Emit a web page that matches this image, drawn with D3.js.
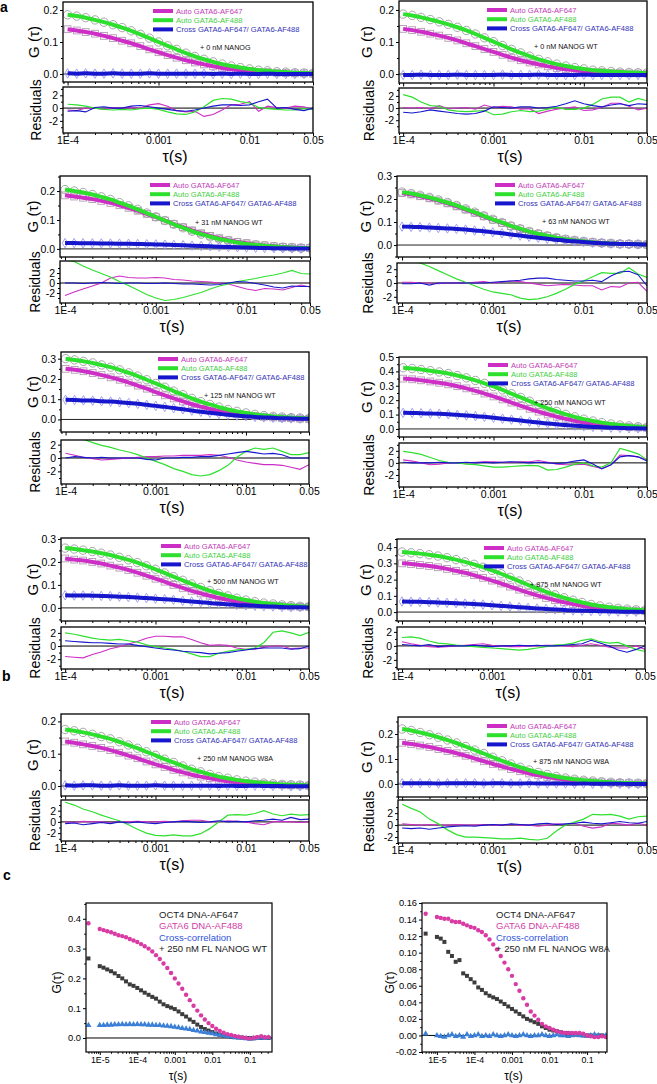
<!DOCTYPE html>
<html><head><meta charset="utf-8">
<script src="https://cdn.jsdelivr.net/npm/d3@7"></script>
<style>body{margin:0;background:#fff}svg{display:block}</style>
</head><body>
<svg id="fig" width="657" height="1084"></svg>
<script>
// ---------- DATA (panels a, b) ----------
const TAU = [1e-4,1.26e-4,1.58e-4,2e-4,2.51e-4,3.16e-4,3.98e-4,5.01e-4,6.31e-4,7.94e-4,1e-3,1.26e-3,1.58e-3,2e-3,2.51e-3,3.16e-3,3.98e-3,5.01e-3,6.31e-3,7.94e-3,1e-2,1.26e-2,1.58e-2,2e-2,2.51e-2,3.16e-2,3.98e-2,5e-2];
const xTickVals = [1e-4,1e-3,1e-2,0.05];
const xTickLabels = ["1E-4","0.001","0.01","0.05"];
const legendLabels = ["Auto GATA6-AF647","Auto GATA6-AF488","Cross GATA6-AF647/ GATA6-AF488"];
const panelNotes = ["+ 0 nM NANOG","+ 0 nM NANOG WT","+ 31 nM NANOG WT","+ 63 nM NANOG WT","+ 125 nM NANOG WT","+ 250 nM NANOG WT","+ 500 nM NANOG WT","+ 875 nM NANOG WT","+ 250 nM NANOG W8A","+ 875 nM NANOG W8A"];

// panel 1
const p1Mag=[0.140,0.136,0.131,0.126,0.119,0.112,0.104,0.096,0.087,0.077,0.068,0.059,0.051,0.043,0.036,0.030,0.024,0.019,0.015,0.012,0.009,0.007,0.006,0.004,0.003,0.002,0.002,0.001];
const p1Grn=[0.185,0.181,0.176,0.169,0.162,0.154,0.145,0.135,0.124,0.112,0.100,0.088,0.077,0.065,0.055,0.046,0.038,0.031,0.025,0.020,0.016,0.012,0.010,0.007,0.006,0.004,0.003,0.002];
const p1Blu=[0.002,0.001,0.002,0.001,0.001,0.002,0.001,0.001,0.001,0.002,0.001,0.001,0.001,0.001,0.001,0.001,0,0.001,0,0.001,0,0,0.001,0,0,0,0,0];
const p1rMag=[-0.3,-0.4,0,0,-0.2,0.1,0,0.1,0,0.5,0.7,0.3,-0.4,-0.6,-0.5,-1.3,-1.0,-0.3,0.5,0.6,1.0,-0.5,0.3,0.1,0,0.3,0.2,-0.2];
const p1rGrn=[0.6,0.5,0.3,0,-0.2,-0.3,-0.2,-0.3,-0.1,0,-0.2,-0.6,-0.9,-1.0,-0.6,0.2,1.2,1.5,1.4,1.0,0.8,0.1,-0.1,-0.2,-0.3,-0.3,-0.1,-0.2];
const p1rBlu=[-0.5,-0.4,-0.6,0.1,0.2,0,0,0.3,0.4,0.2,0,-0.2,-0.4,-0.5,-0.3,0,0.3,0.5,0.5,0.4,0.5,1.0,1.4,0,0.1,-0.2,-0.4,0];
// panel 2
const p2Mag=[0.141,0.137,0.132,0.126,0.120,0.113,0.105,0.096,0.087,0.078,0.069,0.060,0.051,0.043,0.036,0.030,0.024,0.019,0.015,0.012,0.009,0.007,0.006,0.004,0.003,0.002,0.002,0.001];
const p2Grn=[0.187,0.183,0.177,0.170,0.163,0.155,0.146,0.136,0.125,0.113,0.101,0.089,0.077,0.066,0.056,0.046,0.038,0.031,0.025,0.020,0.016,0.012,0.010,0.008,0.006,0.005,0.004,0.003];
const p2Blu=[-0.003,-0.003,-0.002,-0.003,-0.003,-0.003,-0.002,-0.003,-0.003,-0.003,-0.003,-0.002,-0.003,-0.003,-0.003,-0.002,-0.003,-0.003,-0.003,-0.003,-0.002,-0.003,-0.003,-0.003,-0.003,-0.003,-0.003,-0.003];
const p2rMag=[0.1,0,0.1,-0.1,0.4,-0.1,0,0.1,-0.2,0.5,0.1,0.3,0.2,-0.2,-0.1,-0.9,-0.5,-0.2,0,0.2,-0.4,-0.3,0.1,0.8,0.8,0.3,-0.3,0];
const p2rGrn=[2.2,1.8,1.0,0.4,0.3,-0.3,-0.5,-0.6,-0.5,-0.4,-1.1,-1.0,-0.6,-0.4,-0.6,-0.5,-0.2,0.1,-0.2,-0.2,0,0.6,1.5,1.8,1.8,1.0,1.6,1.2];
const p2rBlu=[-0.7,-0.8,-0.6,-0.3,-0.5,-0.7,-0.9,-1.0,-0.9,-0.5,0.2,0.1,0,0.2,0.2,0,0.1,0.3,0.7,1.2,0.7,0.4,0.2,0.5,0.7,0.4,0.7,0.6];
// panel 3
const p3Mag=[0.185,0.181,0.177,0.172,0.166,0.159,0.151,0.142,0.132,0.121,0.110,0.098,0.086,0.075,0.064,0.054,0.045,0.037,0.030,0.024,0.020,0.015,0.012,0.009,0.007,0.005,0.004,0.003];
const p3Grn=[0.205,0.200,0.195,0.188,0.180,0.171,0.160,0.149,0.137,0.124,0.111,0.098,0.085,0.073,0.061,0.051,0.042,0.034,0.028,0.022,0.017,0.014,0.011,0.008,0.006,0.005,0.003,0.003];
const p3Blu=[0.020,0.020,0.0196,0.0193,0.019,0.0187,0.018,0.0177,0.017,0.016,0.0156,0.0146,0.0136,0.0125,0.0113,0.0101,0.0089,0.0077,0.0066,0.0056,0.0047,0.0039,0.0031,0.0025,0.002,0.0016,0.0012,0.001];
const p3rMag=[-2.5,-1.8,-1.2,-0.6,0,1.0,1.4,1.1,1.0,1.0,1.1,1.0,0.7,0.6,0.4,0.3,0.2,0,-0.2,-0.7,-1.2,-1.5,-1.1,-1.2,-1.4,-0.9,-0.4,-0.8];
const p3rGrn=[4.6,4.3,3.4,2.6,1.9,1.2,0.3,-0.5,-1.4,-2.3,-3.0,-3.5,-3.3,-2.9,-2.4,-1.9,-1.2,-0.6,-0.2,0.3,0.6,0.9,1.3,1.6,2.0,2.5,1.9,1.8];
const p3rBlu=[0,0,-0.1,0,0.1,0,-0.1,0,0,-0.1,-0.1,0,-0.1,-0.2,-0.2,-0.3,-0.4,-0.3,0,0.3,0.2,-0.1,-0.4,-0.8,-1.0,-0.6,-0.7,-0.7];
// panel 4
const p4Mag=[0.226,0.220,0.212,0.203,0.193,0.181,0.168,0.154,0.140,0.125,0.110,0.096,0.082,0.069,0.058,0.048,0.039,0.031,0.025,0.020,0.015,0.012,0.009,0.007,0.005,0.004,0.003,0.002];
const p4Grn=[0.230,0.224,0.216,0.207,0.196,0.185,0.172,0.157,0.143,0.127,0.112,0.098,0.083,0.071,0.059,0.049,0.040,0.032,0.025,0.020,0.016,0.012,0.009,0.007,0.005,0.004,0.003,0.002];
const p4Blu=[0.080,0.079,0.078,0.076,0.074,0.072,0.070,0.067,0.063,0.060,0.055,0.051,0.046,0.041,0.036,0.032,0.027,0.023,0.019,0.016,0.013,0.010,0.008,0.006,0.005,0.004,0.003,0.002];
const p4rMag=[0.1,0.1,0,0,-0.1,0,0,0,0.1,0.2,0,0.1,0.3,0.2,0,-0.2,-0.4,-0.3,-0.2,-0.3,-0.4,-0.4,-1.0,-0.5,-0.6,0,0.1,-1.2];
const p4rGrn=[3.8,3.3,2.9,2.4,1.8,1.2,0.6,0.1,-0.4,-0.9,-1.3,-1.5,-1.7,-2.2,-2.4,-2.3,-2.0,-1.5,-0.9,-0.2,0.3,0.9,1.5,1.4,1.4,2.2,1.3,0.8];
const p4rBlu=[-0.1,-0.1,0,-0.3,0,0,0,0,0,0,0.1,0.2,0.3,0.4,0.6,0.7,0.7,0.5,0.4,0.3,0.3,0.4,0.2,1.0,1.6,1.7,1.2,-0.4];
// panel 5
const p5Mag=[0.250,0.245,0.238,0.229,0.219,0.208,0.196,0.182,0.167,0.152,0.135,0.119,0.104,0.089,0.075,0.063,0.052,0.042,0.034,0.027,0.021,0.017,0.013,0.010,0.007,0.006,0.004,0.003];
const p5Grn=[0.300,0.294,0.287,0.279,0.269,0.258,0.245,0.230,0.214,0.196,0.178,0.159,0.140,0.122,0.104,0.088,0.074,0.061,0.049,0.040,0.032,0.025,0.019,0.015,0.012,0.009,0.007,0.005];
const p5Blu=[0.097,0.096,0.094,0.093,0.090,0.088,0.085,0.081,0.077,0.072,0.067,0.062,0.056,0.050,0.044,0.038,0.033,0.028,0.023,0.019,0.016,0.012,0.010,0.008,0.006,0.005,0.004,0.003];
const p5rMag=[0.7,0.4,0.1,-0.1,-0.3,-0.2,-0.1,0,0.1,0.2,0.2,0.3,0.3,0.4,0.4,0.4,0.5,0.4,0.1,-0.3,-0.6,-0.8,-1.0,-1.0,-1.1,-1.4,-1.7,-1.0];
const p5rGrn=[3.6,3.2,2.8,2.3,1.9,1.6,1.2,0.9,0.5,0,-0.5,-1.0,-1.6,-2.0,-2.5,-2.7,-2.5,-1.9,-1.1,0.1,1.0,1.5,1.3,1.5,1.0,0.5,0.5,0.8];
const p5rBlu=[0,0.2,0.1,0,0.1,0,0,0,0,-0.2,-0.3,0,0,0.1,0.1,0.2,0.2,0.4,0.6,0.8,1.0,0.8,0.6,0.7,0.5,0,0,0];
// panel 6
const p6Mag=[0.350,0.345,0.338,0.330,0.321,0.310,0.297,0.282,0.265,0.246,0.226,0.205,0.183,0.161,0.140,0.120,0.101,0.085,0.070,0.057,0.046,0.036,0.029,0.022,0.017,0.013,0.010,0.008];
const p6Grn=[0.425,0.420,0.413,0.405,0.396,0.385,0.371,0.355,0.337,0.317,0.295,0.271,0.245,0.219,0.193,0.168,0.143,0.122,0.101,0.084,0.068,0.055,0.044,0.034,0.027,0.021,0.016,0.012];
const p6Blu=[0.112,0.111,0.109,0.107,0.105,0.102,0.098,0.094,0.089,0.084,0.078,0.071,0.065,0.058,0.051,0.044,0.038,0.032,0.027,0.022,0.018,0.014,0.012,0.009,0.007,0.005,0.004,0.003];
const p6rMag=[0.5,0.3,0,-0.3,-0.2,0,0,0,0.1,0.2,0.2,0.1,0.1,0.2,0.2,0.4,0.1,-0.2,-0.3,-0.3,-0.2,-0.6,-0.9,-0.3,1.3,1.2,1.0,0.5];
const p6rGrn=[1.9,1.7,1.4,0.9,0.4,0.1,0,-0.2,-0.3,-0.5,-0.7,-0.7,-0.6,-0.5,-0.4,-0.5,-1.2,-1.1,-0.7,-0.2,0,-0.5,-0.7,0,2.4,2.0,1.5,0.5];
const p6rBlu=[0.1,0,0,0,0.1,0,0,0.1,0,0.1,0,0.1,0.2,0.1,0,0.1,0,-0.1,0,0.3,0.5,-0.2,-1.0,-0.3,1.0,1.2,1.0,0.3];
// panel 7
const p7Mag=[0.215,0.210,0.206,0.200,0.193,0.184,0.175,0.165,0.153,0.140,0.127,0.114,0.100,0.087,0.074,0.063,0.053,0.043,0.035,0.028,0.023,0.018,0.014,0.011,0.008,0.006,0.005,0.004];
const p7Grn=[0.260,0.256,0.251,0.245,0.238,0.230,0.220,0.209,0.197,0.183,0.168,0.152,0.136,0.120,0.104,0.089,0.075,0.063,0.052,0.042,0.034,0.027,0.021,0.017,0.013,0.010,0.007,0.006];
const p7Blu=[0.055,0.054,0.054,0.053,0.052,0.051,0.049,0.047,0.045,0.043,0.040,0.038,0.035,0.031,0.028,0.025,0.021,0.018,0.016,0.013,0.011,0.009,0.007,0.006,0.004,0.003,0.003,0.002];
const p7rMag=[-1.6,-1.7,-1.8,-1.3,-0.9,-0.4,-0.1,0.3,0.7,1.2,1.5,1.5,1.4,1.4,1.0,0.5,0.1,0.2,0.1,-0.3,-0.5,-0.5,-0.2,0,0,-0.4,-0.3,-0.3];
const p7rGrn=[2.0,1.8,1.5,1.2,1.0,0.9,1.0,0.8,0.6,0.2,-0.1,-0.3,-0.5,-0.8,-1.2,-1.6,-1.6,-1.1,-0.8,-0.6,-0.5,-0.3,0.5,2.1,2.3,2.0,1.6,2.1];
const p7rBlu=[0.8,0.7,0.6,0.5,0.5,0.4,0.3,0.3,0.1,-0.1,-0.3,-0.5,-0.6,-0.8,-0.9,-1.0,-1.2,-1.1,-1.0,-0.8,-0.6,-0.4,-0.3,-0.3,-0.3,-0.5,-0.4,0];
// panel 8
const p8Mag=[0.300,0.296,0.290,0.284,0.276,0.266,0.254,0.242,0.227,0.211,0.194,0.176,0.157,0.138,0.120,0.103,0.087,0.073,0.060,0.049,0.039,0.031,0.025,0.019,0.015,0.011,0.009,0.007];
const p8Grn=[0.370,0.365,0.360,0.353,0.345,0.335,0.323,0.309,0.294,0.276,0.257,0.236,0.214,0.191,0.168,0.146,0.125,0.106,0.088,0.073,0.059,0.047,0.038,0.030,0.023,0.018,0.014,0.011];
const p8Blu=[0.065,0.064,0.063,0.061,0.059,0.057,0.055,0.052,0.049,0.046,0.042,0.038,0.034,0.030,0.026,0.022,0.019,0.016,0.013,0.010,0.008,0.007,0.005,0.004,0.003,0.002,0.002,0.001];
const p8rMag=[0.6,0.3,0.1,-0.1,-0.2,-0.1,0,0.1,0.2,0.3,0.1,0,-0.1,-0.1,0,0,0.1,0.1,0,-0.1,0.1,0.3,0.1,-0.2,-0.3,-0.3,0,-0.5];
const p8rGrn=[1.2,1.3,1.1,0.7,0.4,0.3,0.1,0,-0.1,-0.2,-0.3,-0.4,-0.5,-0.6,-0.5,-0.3,-0.1,0.1,0.2,0.4,0.8,1.0,0.6,0.4,0.5,0,-0.5,-0.8];
const p8rBlu=[0.2,0.1,0,0.2,-0.1,0,0,0,0.1,0,-0.1,0,0,0.1,0,0.1,0,0,0.1,0.2,0.3,0.8,0.4,0,-0.6,-0.9,-0.5,0];
// panel 9
const p9Mag=[0.138,0.134,0.129,0.124,0.118,0.111,0.103,0.094,0.086,0.076,0.067,0.059,0.050,0.042,0.035,0.029,0.024,0.019,0.015,0.012,0.009,0.007,0.006,0.004,0.003,0.002,0.002,0.001];
const p9Grn=[0.175,0.171,0.166,0.160,0.153,0.146,0.137,0.127,0.117,0.106,0.095,0.083,0.073,0.062,0.052,0.044,0.036,0.029,0.024,0.019,0.015,0.012,0.009,0.007,0.005,0.004,0.003,0.002];
const p9Blu=[0.002,0.001,0.002,0.002,0.001,0.001,0.002,0.001,0.001,0.001,0.002,0.001,0.001,0.001,0.001,0.001,0.001,0,0.001,0,0,0.001,0,0,0,-0.001,-0.001,-0.001];
const p9rMag=[0,-0.1,0.1,0,0,-0.2,0,0,0.1,0,0,0.1,0,0.2,0.3,0.3,0,0,0.2,0.1,0,-0.3,-0.5,0,0.1,0,-0.1,0];
const p9rGrn=[3.5,3.0,2.3,1.8,1.2,0.7,0.2,-0.5,-1.3,-2.0,-2.4,-2.5,-2.3,-2.5,-2.5,-2.1,-1.2,0,1.2,1.3,1.2,1.5,2.0,1.4,1.1,1.4,1.2,1.3];
const p9rBlu=[-0.3,-0.2,-0.5,-0.3,-0.1,-0.3,0,-0.2,0,-0.2,-0.3,-0.1,0,0.1,0,-0.1,0,0.2,0,0.1,0,0.2,0.3,0.5,0.3,0.8,0.4,0.5];
// panel 10
const p10Mag=[0.165,0.160,0.154,0.148,0.140,0.132,0.123,0.113,0.102,0.091,0.080,0.070,0.060,0.051,0.042,0.035,0.028,0.023,0.018,0.014,0.011,0.009,0.007,0.005,0.004,0.003,0.002,0.002];
const p10Grn=[0.220,0.214,0.206,0.197,0.187,0.176,0.164,0.150,0.136,0.122,0.107,0.093,0.080,0.067,0.056,0.046,0.038,0.030,0.024,0.019,0.015,0.012,0.009,0.007,0.005,0.004,0.003,0.002];
const p10Blu=[0.003,0.003,0.003,0.003,0.002,0.003,0.003,0.003,0.003,0.002,0.003,0.003,0.002,0.002,0.003,0.002,0.002,0.002,0.002,0.001,0.002,0.001,0.001,0.001,0.001,0,0,0];
const p10rMag=[0.2,0.1,0,0.1,0,0,0.1,0,0,0.1,0,0,0.1,0,0,-0.2,0,0.2,0.1,0.3,-0.2,-0.5,-0.3,0.3,0.2,0,0.3,0];
const p10rGrn=[3.5,2.8,2.2,1.0,0.2,-0.8,-1.6,-2.0,-2.0,-2.1,-2.2,-2.3,-2.3,-2.2,-2.4,-2.5,-2.2,-1.0,0,0.5,1.0,1.8,1.7,1.8,1.5,1.0,1.4,1.5];
const p10rBlu=[-0.5,-0.6,-0.5,-0.7,-0.5,-0.3,-0.2,-0.1,-0.2,0,0.1,0,0.2,0.1,0,0.2,0.3,0.1,0.2,0.3,0.5,0.3,0.2,0.4,0.6,0.4,0.3,0.6];

// ---------- DATA (panel c) ----------
const TAU_C = [5e-6,1e-5,1.26e-5,1.58e-5,2e-5,2.51e-5,3.16e-5,3.98e-5,5.01e-5,6.31e-5,7.94e-5,1e-4,1.26e-4,1.58e-4,2e-4,2.51e-4,3.16e-4,3.98e-4,5.01e-4,6.31e-4,7.94e-4,1e-3,1.26e-3,1.58e-3,2e-3,2.51e-3,3.16e-3,3.98e-3,5.01e-3,6.31e-3,7.94e-3,1e-2,1.26e-2,1.58e-2,2e-2,2.51e-2,3.16e-2,3.98e-2,5.01e-2,6.31e-2,7.94e-2,0.1,0.126,0.158,0.2,0.251,0.316];
const cL_oct=[0.267,0.241,0.236,0.230,0.224,0.217,0.208,0.200,0.190,0.180,0.175,0.168,0.160,0.152,0.145,0.138,0.132,0.122,0.113,0.107,0.102,0.097,0.089,0.080,0.072,0.062,0.054,0.045,0.037,0.030,0.025,0.020,0.015,0.011,0.008,0.006,0.004,0.003,0.002,0.001,0.000,0.000,-0.001,0.001,0.000,0.001,0.000];
const cL_gata=[0.385,0.366,0.362,0.358,0.355,0.350,0.345,0.342,0.338,0.332,0.327,0.322,0.315,0.308,0.300,0.290,0.278,0.265,0.250,0.235,0.218,0.200,0.183,0.165,0.145,0.127,0.108,0.092,0.076,0.062,0.050,0.040,0.031,0.024,0.018,0.013,0.010,0.007,0.004,0.002,0.000,-0.002,0.001,0.003,0.006,0.002,0.003];
const cL_cross=[0.043,0.043,0.043,0.044,0.044,0.045,0.045,0.046,0.045,0.046,0.045,0.046,0.045,0.045,0.044,0.044,0.043,0.043,0.041,0.040,0.039,0.037,0.035,0.033,0.031,0.029,0.026,0.024,0.021,0.019,0.017,0.015,0.012,0.010,0.008,0.006,0.004,0.002,0.001,0.000,-0.002,-0.003,-0.002,0.000,0.001,0.000,0.001];
const cR_oct=[0.123,0.119,0.117,0.113,0.101,0.096,0.089,0.091,0.075,0.072,0.068,0.064,0.058,0.055,0.051,0.048,0.046,0.044,0.041,0.038,0.035,0.032,0.029,0.026,0.023,0.020,0.018,0.016,0.014,0.011,0.009,0.007,0.006,0.005,0.004,0.003,0.003,0.002,0.001,0.001,0.000,0.000,0.000,-0.001,0.000,0.000,-0.001];
const cR_gata=[0.147,0.143,0.142,0.141,0.141,0.138,0.137,0.137,0.135,0.133,0.131,0.130,0.127,0.125,0.121,0.116,0.110,0.104,0.096,0.088,0.080,0.072,0.062,0.054,0.045,0.037,0.029,0.024,0.019,0.014,0.011,0.009,0.007,0.005,0.004,0.003,0.003,0.003,0.003,0.003,0.002,0.000,-0.001,-0.002,-0.002,-0.001,-0.002];
const cR_cross=[0.002,0.000,-0.001,-0.002,0.000,0.001,-0.001,0.000,-0.002,0.001,-0.001,0.000,0.001,-0.001,0.000,-0.001,0.001,0.000,-0.001,0.000,0.001,0.000,-0.001,0.000,0.001,0.000,-0.001,0.000,0.000,0.001,0.000,-0.001,0.000,0.001,0.000,0.000,-0.001,0.000,0.001,0.000,0.000,-0.001,0.000,0.001,0.000,-0.001,0.000];
const cLegend = ["OCT4 DNA-AF647","GATA6 DNA-AF488","Cross-correlation"];
const cNotes = ["+ 250 nM FL NANOG WT","+ 250 nM FL NANOG W8A"];
const cXTickVals = [1e-5,1e-4,1e-3,1e-2,0.1];
const cXTickLabels = ["1E-5","1E-4","0.001","0.01","0.1"];

// ---------- build tables ----------
const PANELS = [
  {mag:p1Mag,grn:p1Grn,blu:p1Blu,rm:p1rMag,rg:p1rGrn,rb:p1rBlu},
  {mag:p2Mag,grn:p2Grn,blu:p2Blu,rm:p2rMag,rg:p2rGrn,rb:p2rBlu},
  {mag:p3Mag,grn:p3Grn,blu:p3Blu,rm:p3rMag,rg:p3rGrn,rb:p3rBlu},
  {mag:p4Mag,grn:p4Grn,blu:p4Blu,rm:p4rMag,rg:p4rGrn,rb:p4rBlu},
  {mag:p5Mag,grn:p5Grn,blu:p5Blu,rm:p5rMag,rg:p5rGrn,rb:p5rBlu},
  {mag:p6Mag,grn:p6Grn,blu:p6Blu,rm:p6rMag,rg:p6rGrn,rb:p6rBlu},
  {mag:p7Mag,grn:p7Grn,blu:p7Blu,rm:p7rMag,rg:p7rGrn,rb:p7rBlu},
  {mag:p8Mag,grn:p8Grn,blu:p8Blu,rm:p8rMag,rg:p8rGrn,rb:p8rBlu},
  {mag:p9Mag,grn:p9Grn,blu:p9Blu,rm:p9rMag,rg:p9rGrn,rb:p9rBlu},
  {mag:p10Mag,grn:p10Grn,blu:p10Blu,rm:p10rMag,rg:p10rGrn,rb:p10rBlu}
];
const LAYOUT = [
 {x0:63,x1:313,xd:[8.9e-5,0.05],gTop:2,gBot:82,rTop:87,rBot:133,gd:[-0.025,0.225],rd:[-3.9,3.3],gT:[0,0.1,0.2],leg:[153,11],ann:[200,47],labX:34},
 {x0:399,x1:647,xd:[9e-5,0.05],gTop:1,gBot:83,rTop:88,rBot:133,gd:[-0.028,0.228],rd:[-4.1,3.3],gT:[0,0.1,0.2],leg:[487,10],ann:[534,46],labX:367},
 {x0:60,x1:310,xd:[8.8e-5,0.05],gTop:176,gBot:257,rTop:261,rBot:303,gd:[-0.028,0.252],rd:[-4,4.4],gT:[0,0.1,0.2],leg:[150,185],ann:[195,222],labX:33},
 {x0:397,x1:647,xd:[8.8e-5,0.05],gTop:176,gBot:257,rTop:263,rBot:303,gd:[-0.052,0.3],rd:[-2.9,2.9],gT:[0,0.1,0.2,0.3],leg:[495,185],ann:[542,221],labX:366},
 {x0:61,x1:309,xd:[8.9e-5,0.05],gTop:352,gBot:432,rTop:440,rBot:484,gd:[-0.062,0.333],rd:[-3.9,2.7],gT:[0,0.1,0.2,0.3],leg:[158,359],ann:[204,395],labX:33},
 {x0:399,x1:647,xd:[9e-5,0.05],gTop:357,gBot:437,rTop:443,rBot:487,gd:[-0.056,0.5],rd:[-4,3.3],gT:[0,0.1,0.2,0.3,0.4,0.5],leg:[488,365],ann:[534,402],labX:367},
 {x0:61,x1:309,xd:[9e-5,0.05],gTop:538,gBot:621,rTop:627,rBot:669,gd:[-0.057,0.304],rd:[-3.5,2.9],gT:[0,0.1,0.2,0.3],leg:[161,546],ann:[207,581],labX:33},
 {x0:397,x1:645,xd:[8.8e-5,0.05],gTop:539,gBot:621,rTop:627,rBot:669,gd:[-0.055,0.45],rd:[-3.3,2.7],gT:[0,0.1,0.2,0.3,0.4],leg:[484,548],ann:[530,584],labX:366},
 {x0:61,x1:309,xd:[9e-5,0.05],gTop:714,gBot:796,rTop:800,rBot:841,gd:[-0.031,0.223],rd:[-3.4,3.9],gT:[0,0.1,0.2],leg:[151,722],ann:[197,758],labX:33},
 {x0:398,x1:647,xd:[9e-5,0.05],gTop:717,gBot:797,rTop:800,rBot:843,gd:[-0.052,0.268],rd:[-3,4.2],gT:[0,0.1,0.2],leg:[487,726],ann:[533,761],labX:367}
];

const FONT = "'Liberation Sans', Arial, Helvetica, sans-serif";
const C = {mag:"#cc2ec6", grn:"#2ee02e", blu:"#1616cc",
  magT:"#c23ab8", grnT:"#3fcf3f", bluT:"#3434b8",
  circ:"#9c9c9c", sq:"#b49ab4", dia:"#9a9af0"};
const svg = d3.select("#fig");
const defs = svg.append("defs");

function minorsIn(dom, step) {
  const out = [];
  const a = Math.ceil(dom[0]/step - 1e-9), b = Math.floor(dom[1]/step + 1e-9);
  for (let k=a;k<=b;k++){ out.push(+(k*step).toFixed(6)); }
  return out;
}
function logMinors(dom) {
  const out = [];
  for (let e=-7;e<=1;e++) for (let m=2;m<=9;m++){ const v=m*Math.pow(10,e); if (v>=dom[0] && v<=dom[1]) out.push(v); }
  return out;
}
function styleAxis(sel, fs) {
  sel.select(".domain").remove();
  sel.attr("font-family", FONT).attr("font-size", fs);
  sel.selectAll("line").attr("stroke","#000").attr("stroke-width",1);
}

function drawPanel(L, D, idx) {
  const g = svg.append("g");
  const x = d3.scaleLog().domain(L.xd).range([L.x0, L.x1]);
  const yG = d3.scaleLinear().domain(L.gd).range([L.gBot, L.gTop]);
  const yR = d3.scaleLinear().domain(L.rd).range([L.rBot, L.rTop]);
  const W = L.x1 - L.x0;
  defs.append("clipPath").attr("id","cg"+idx).append("rect").attr("x",L.x0).attr("y",L.gTop).attr("width",W).attr("height",L.gBot-L.gTop);
  defs.append("clipPath").attr("id","cr"+idx).append("rect").attr("x",L.x0).attr("y",L.rTop).attr("width",W).attr("height",L.rBot-L.rTop);

  const pts = arr => arr.map((v,i)=>[TAU[i], v]);
  const gg = g.append("g").attr("clip-path",`url(#cg${idx})`);
  gg.append("line").attr("x1",L.x0).attr("x2",L.x1).attr("y1",yG(0)).attr("y2",yG(0)).attr("stroke","#222").attr("stroke-width",1);
  gg.append("g").selectAll("rect").data(pts(D.mag)).join("rect")
    .attr("x",d=>x(d[0])-3.4).attr("y",d=>yG(d[1])-3.4).attr("width",6.8).attr("height",6.8)
    .attr("fill","none").attr("stroke",C.sq).attr("stroke-width",0.9);
  gg.append("g").selectAll("circle").data(pts(D.grn)).join("circle")
    .attr("cx",d=>x(d[0])).attr("cy",d=>yG(d[1])).attr("r",4.2)
    .attr("fill","none").attr("stroke",C.circ).attr("stroke-width",0.9);
  const dia = d3.symbol(d3.symbolDiamond, 26);
  gg.append("g").selectAll("path").data(pts(D.blu)).join("path")
    .attr("d",dia).attr("transform",d=>`translate(${x(d[0])},${yG(d[1])})`)
    .attr("fill","none").attr("stroke",C.dia).attr("stroke-width",0.9);
  const lineG = d3.line().x(d=>x(d[0])).y(d=>yG(d[1])).curve(d3.curveMonotoneX);
  gg.append("path").attr("d",lineG(pts(D.mag))).attr("fill","none").attr("stroke",C.mag).attr("stroke-width",4);
  gg.append("path").attr("d",lineG(pts(D.grn))).attr("fill","none").attr("stroke",C.grn).attr("stroke-width",4);
  gg.append("path").attr("d",lineG(pts(D.blu))).attr("fill","none").attr("stroke",C.blu).attr("stroke-width",4);

  const rr = g.append("g").attr("clip-path",`url(#cr${idx})`);
  rr.append("line").attr("x1",L.x0).attr("x2",L.x1).attr("y1",yR(0)).attr("y2",yR(0)).attr("stroke","#000").attr("stroke-width",1);
  const lineR = d3.line().x(d=>x(d[0])).y(d=>yR(d[1]));
  rr.append("path").attr("d",lineR(pts(D.rm))).attr("fill","none").attr("stroke",C.mag).attr("stroke-width",1.1);
  rr.append("path").attr("d",lineR(pts(D.rg))).attr("fill","none").attr("stroke",C.grn).attr("stroke-width",1.2);
  rr.append("path").attr("d",lineR(pts(D.rb))).attr("fill","none").attr("stroke",C.blu).attr("stroke-width",1.1);

  g.append("rect").attr("x",L.x0).attr("y",L.gTop).attr("width",W).attr("height",L.gBot-L.gTop).attr("fill","none").attr("stroke","#000").attr("stroke-width",1.3);
  g.append("rect").attr("x",L.x0).attr("y",L.rTop).attr("width",W).attr("height",L.rBot-L.rTop).attr("fill","none").attr("stroke","#000").attr("stroke-width",1.3);

  g.append("g").attr("transform",`translate(${L.x0},0)`)
    .call(d3.axisLeft(yG).tickValues(L.gT).tickSize(3).tickPadding(2).tickFormat(d=>d.toFixed(1)))
    .call(s=>styleAxis(s,10.5));
  g.append("g").attr("transform",`translate(${L.x0},0)`)
    .call(d3.axisLeft(yG).tickValues(minorsIn(L.gd,0.05).filter(v=>!L.gT.some(t=>Math.abs(t-v)<1e-6))).tickSize(2).tickFormat(""))
    .call(s=>styleAxis(s,10.5));
  g.append("g").attr("transform",`translate(0,${L.gBot})`)
    .call(d3.axisBottom(x).tickValues(xTickVals).tickSize(3.5).tickFormat(""))
    .call(s=>styleAxis(s,11));
  g.append("g").attr("transform",`translate(0,${L.gBot})`)
    .call(d3.axisBottom(x).tickValues(logMinors(L.xd)).tickSize(2).tickFormat(""))
    .call(s=>styleAxis(s,11));
  const rT = [-2,0,2];
  g.append("g").attr("transform",`translate(${L.x0},0)`)
    .call(d3.axisLeft(yR).tickValues(rT).tickSize(3).tickPadding(2).tickFormat(d=>String(d)))
    .call(s=>styleAxis(s,10.5));
  g.append("g").attr("transform",`translate(${L.x0},0)`)
    .call(d3.axisLeft(yR).tickValues([-3,-1,1,3].filter(v=>v>=L.rd[0]&&v<=L.rd[1])).tickSize(2).tickFormat(""))
    .call(s=>styleAxis(s,10.5));
  g.append("g").attr("transform",`translate(0,${L.rBot})`)
    .call(d3.axisBottom(x).tickValues(xTickVals).tickSize(3).tickPadding(1).tickFormat((d,i)=>xTickLabels[i]))
    .call(s=>styleAxis(s,10.5));
  g.append("g").attr("transform",`translate(0,${L.rBot})`)
    .call(d3.axisBottom(x).tickValues(logMinors(L.xd)).tickSize(2).tickFormat(""))
    .call(s=>styleAxis(s,11));

  g.append("text").attr("transform",`translate(${L.labX},${(L.gTop+L.gBot)/2}) rotate(-90)`)
    .attr("text-anchor","middle").attr("dy","0.35em").attr("font-family",FONT).attr("font-size",15).text("G (τ)");
  g.append("text").attr("transform",`translate(${L.labX+2},${(L.rTop+L.rBot)/2}) rotate(-90)`)
    .attr("text-anchor","middle").attr("dy","0.35em").attr("font-family",FONT).attr("font-size",14).text("Residuals");
  g.append("text").attr("x",(L.x0+L.x1)/2-13).attr("y",L.rBot+29).attr("text-anchor","middle")
    .attr("font-family",FONT).attr("font-size",16).text("τ(s)");

  const legCols = [[C.mag,C.magT],[C.grn,C.grnT],[C.blu,C.bluT]];
  legendLabels.forEach((t,i)=>{
    const yy = L.leg[1] + i*9.2;
    g.append("line").attr("x1",L.leg[0]).attr("x2",L.leg[0]+20).attr("y1",yy).attr("y2",yy).attr("stroke",legCols[i][0]).attr("stroke-width",4);
    g.append("text").attr("x",L.leg[0]+23).attr("y",yy).attr("dy","0.35em").attr("font-family",FONT).attr("font-size",7.6).attr("fill",legCols[i][1]).text(t);
  });
  g.append("text").attr("x",L.ann[0]).attr("y",L.ann[1]).attr("dy","0.35em").attr("font-family",FONT).attr("font-size",7.2).attr("fill","#111").text(panelNotes[idx]);
}

PANELS.forEach((D,i)=>drawPanel(LAYOUT[i], D, i));

// ---------- panel c ----------
const CLAYOUT = [
  {x0:86,x1:272,yTop:903,yBot:1052,xd:[4.3e-6,0.39],yd:[-0.047,0.453],yT:[0,0.1,0.2,0.3,0.4],yStep:0.05,fmt:1,leg:159,labX:57,oct:cL_oct,gata:cL_gata,cross:cL_cross},
  {x0:422,x1:607,yTop:903,yBot:1052,xd:[4e-6,0.34],yd:[-0.02,0.16],yT:[-0.02,0,0.02,0.04,0.06,0.08,0.10,0.12,0.14,0.16],yStep:0.01,fmt:2,leg:496,labX:390,oct:cR_oct,gata:cR_gata,cross:cR_cross}
];
function drawC(L, idx) {
  const g = svg.append("g");
  const x = d3.scaleLog().domain(L.xd).range([L.x0,L.x1]);
  const y = d3.scaleLinear().domain(L.yd).range([L.yBot,L.yTop]);
  defs.append("clipPath").attr("id","cc"+idx).append("rect").attr("x",L.x0).attr("y",L.yTop).attr("width",L.x1-L.x0).attr("height",L.yBot-L.yTop);
  const gc = g.append("g").attr("clip-path",`url(#cc${idx})`);
  gc.append("line").attr("x1",L.x0).attr("x2",L.x1).attr("y1",y(0)).attr("y2",y(0)).attr("stroke","#000").attr("stroke-width",1);
  const pts = arr => arr.map((v,i)=>[TAU_C[i],v]);
  gc.append("g").selectAll("rect").data(pts(L.oct)).join("rect")
    .attr("x",d=>x(d[0])-2).attr("y",d=>y(d[1])-2).attr("width",4).attr("height",4).attr("fill","#3c3c3c");
  const tri = d3.symbol(d3.symbolTriangle, 16);
  gc.append("g").selectAll("path").data(pts(L.cross)).join("path")
    .attr("d",tri).attr("transform",d=>`translate(${x(d[0])},${y(d[1])})`).attr("fill","#3b7fd6");
  gc.append("g").selectAll("circle").data(pts(L.gata)).join("circle")
    .attr("cx",d=>x(d[0])).attr("cy",d=>y(d[1])).attr("r",2.2).attr("fill","#d93aa3");
  g.append("rect").attr("x",L.x0).attr("y",L.yTop).attr("width",L.x1-L.x0).attr("height",L.yBot-L.yTop).attr("fill","none").attr("stroke","#000").attr("stroke-width",1.2);
  g.append("g").attr("transform",`translate(${L.x0},0)`)
    .call(d3.axisLeft(y).tickValues(L.yT).tickSize(3).tickPadding(2).tickFormat(d=>d.toFixed(L.fmt)))
    .call(s=>styleAxis(s,9.3));
  g.append("g").attr("transform",`translate(${L.x0},0)`)
    .call(d3.axisLeft(y).tickValues(minorsIn(L.yd,L.yStep).filter(v=>!L.yT.some(t=>Math.abs(t-v)<1e-6))).tickSize(1.8).tickFormat(""))
    .call(s=>styleAxis(s,9));
  g.append("g").attr("transform",`translate(0,${L.yBot})`)
    .call(d3.axisBottom(x).tickValues(cXTickVals).tickSize(3).tickPadding(2).tickFormat((d,i)=>cXTickLabels[i]))
    .call(s=>styleAxis(s,8.8));
  g.append("g").attr("transform",`translate(0,${L.yBot})`)
    .call(d3.axisBottom(x).tickValues(logMinors(L.xd)).tickSize(1.8).tickFormat(""))
    .call(s=>styleAxis(s,9));
  g.append("text").attr("transform",`translate(${L.labX},${(L.yTop+L.yBot)/2+5}) rotate(-90)`)
    .attr("text-anchor","middle").attr("dy","0.35em").attr("font-family",FONT).attr("font-size",12).text("G(τ)");
  g.append("text").attr("x",(L.x0+L.x1)/2-1).attr("y",1080).attr("text-anchor","middle").attr("font-family",FONT).attr("font-size",12).text("τ(s)");
  const cols = ["#1a1a1a","#d23ca6","#2f52db","#1a1a1a"];
  [...cLegend, cNotes[idx]].forEach((t,i)=>{
    g.append("text").attr("x",L.leg).attr("y",918+i*11.4).attr("font-family",FONT).attr("font-size",9.5).attr("fill",cols[i]).text(t);
  });
}
CLAYOUT.forEach((L,i)=>drawC(L,i));

svg.append("text").attr("x",0).attr("y",12).attr("font-family",FONT).attr("font-weight","bold").attr("font-size",14).text("a");
svg.append("text").attr("x",2).attr("y",681).attr("font-family",FONT).attr("font-weight","bold").attr("font-size",14).text("b");
svg.append("text").attr("x",3).attr("y",880).attr("font-family",FONT).attr("font-weight","bold").attr("font-size",14).text("c");
</script>
</body></html>
